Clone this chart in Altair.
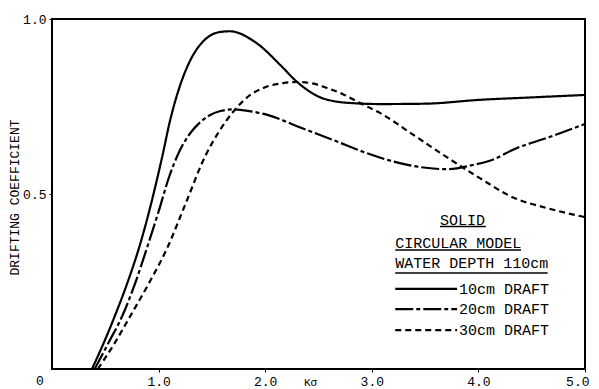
import altair as alt
import pandas as pd

# 10cm draft (solid)
x10 = [0.375, 0.50, 0.59, 0.70, 0.83, 0.94, 1.04, 1.10, 1.17, 1.25, 1.32, 1.40, 1.48, 1.58, 1.67, 1.76, 1.85, 1.95, 2.14, 2.30, 2.51, 2.65, 2.80, 3.08, 3.5, 4.01, 4.5, 5.0]
y10 = [0.0, 0.085, 0.152, 0.24, 0.36, 0.485, 0.615, 0.70, 0.78, 0.85, 0.895, 0.93, 0.952, 0.963, 0.965, 0.959, 0.945, 0.924, 0.869, 0.82, 0.777, 0.765, 0.760, 0.757, 0.758, 0.769, 0.776, 0.783]
# 20cm draft (dash-dot)
x20 = [0.40, 0.53, 0.66, 0.78, 0.89, 1.0, 1.1, 1.2, 1.30, 1.39, 1.48, 1.58, 1.70, 1.85, 2.02, 2.33, 2.64, 2.95, 3.2, 3.45, 3.70, 3.95, 4.15, 4.32, 4.64, 5.0]
y20 = [0.0, 0.075, 0.152, 0.245, 0.345, 0.45, 0.55, 0.625, 0.675, 0.705, 0.725, 0.737, 0.742, 0.737, 0.726, 0.69, 0.654, 0.617, 0.593, 0.577, 0.571, 0.583, 0.60, 0.626, 0.66, 0.70]
# 30cm draft (dashed)
x30 = [0.43, 0.58, 0.73, 0.90, 1.08, 1.25, 1.44, 1.57, 1.70, 1.86, 2.0, 2.17, 2.30, 2.44, 2.58, 2.73, 2.89, 3.08, 3.39, 3.70, 4.01, 4.32, 4.64, 5.0]
y30 = [0.0, 0.07, 0.149, 0.24, 0.345, 0.47, 0.61, 0.68, 0.735, 0.783, 0.805, 0.817, 0.82, 0.816, 0.803, 0.785, 0.76, 0.731, 0.669, 0.606, 0.546, 0.491, 0.46, 0.434]

series_labels = ["10cm DRAFT", "20cm DRAFT", "30cm DRAFT"]
dashes = [[1, 0], [18, 3, 4, 3], [6, 4]]
header_lines = ["SOLID", "CIRCULAR MODEL", "WATER DEPTH 110cm"]

x_ticks = [1, 2, 3, 4, 5]
y_ticks = [0.5, 1.0]

FONT = "Liberation Mono"

xscale = alt.Scale(domain=[0, 5], nice=False, zero=False)
yscale = alt.Scale(domain=[0, 1], nice=False, zero=False)

xaxis = alt.Axis(values=x_ticks, format=".1f", title="Kσ", titleX=258, titleY=13,
                 titleBaseline="middle", titleFontSize=11, titleFontWeight="normal",
                 titleFont=FONT, labelFont=FONT, labelFontSize=13, tickSize=3,
                 labelPadding=3, grid=False, domain=False, labelFlush=True,
                 labelFlushOffset=4)
yaxis = alt.Axis(values=y_ticks, format=".1f", title="DRIFTING COEFFICIENT",
                 titleX=-38, titleY=178, titleAngle=270, titleAlign="center",
                 titleBaseline="middle", titleFontSize=13, titleFontWeight="normal",
                 titleFont=FONT, labelFont=FONT, labelFontSize=13, tickSize=3,
                 labelPadding=3, grid=False, domain=False, labelFlush=False)


def X(field):
    return alt.X(field, scale=xscale, axis=xaxis)


def Y(field):
    return alt.Y(field, scale=yscale, axis=yaxis)


layers = []
curves = [(x10, y10), (x20, y20), (x30, y30)]
for i, (xs, ys) in enumerate(curves):
    d = pd.DataFrame({"x": xs, "y": ys})
    layers.append(alt.Chart(d).mark_line(interpolate="monotone", color="black",
                                         strokeWidth=2.2, strokeDash=dashes[i]).encode(
        x=X("x:Q"), y=Y("y:Q")))

# legend samples
leg_y = [0.229, 0.171, 0.111]
for i in range(3):
    d = pd.DataFrame({"x": [3.22], "x2": [3.80], "y": [leg_y[i]], "t": [series_labels[i]]})
    layers.append(alt.Chart(d).mark_rule(color="black", strokeWidth=2.2, strokeDash=dashes[i]).encode(
        x=X("x:Q"), x2="x2:Q", y=Y("y:Q")))
    layers.append(alt.Chart(d).mark_text(font=FONT, fontSize=15, align="left", baseline="middle",
                                         dx=2, color="black").encode(
        x=X("x2:Q"), y=Y("y:Q"), text="t:N"))

# header texts
hdr = pd.DataFrame({"t": header_lines, "x": [3.64, 3.22, 3.22], "y": [0.426, 0.36, 0.303],
                    "ux2": [4.07, 4.40, 4.65], "uy": [0.407, 0.34, 0.274]})
layers.append(alt.Chart(hdr).mark_text(font=FONT, fontSize=15, align="left", baseline="middle",
                                       color="black").encode(
    x=X("x:Q"), y=Y("y:Q"), text="t:N"))
layers.append(alt.Chart(hdr).mark_rule(color="black", strokeWidth=1.5).encode(
    x=X("x:Q"), x2="ux2:Q", y=Y("uy:Q")))

# origin label
orig = pd.DataFrame({"x": [0], "y": [0], "t": ["0"]})
layers.append(alt.Chart(orig).mark_text(font=FONT, fontSize=13, dx=-12, dy=12, color="black").encode(
    x=X("x:Q"), y=Y("y:Q"), text="t:N"))

chart = alt.layer(*layers).properties(
    width=533, height=350, autosize="none",
    padding={"left": 44, "top": 11, "right": 6, "bottom": 30},
    background="white",
).configure_view(stroke="black", strokeWidth=2).configure_axis(
    labelColor="black", titleColor="black", tickColor="black")

chart.save("out.html", embed_options={"renderer": "svg", "actions": False})
